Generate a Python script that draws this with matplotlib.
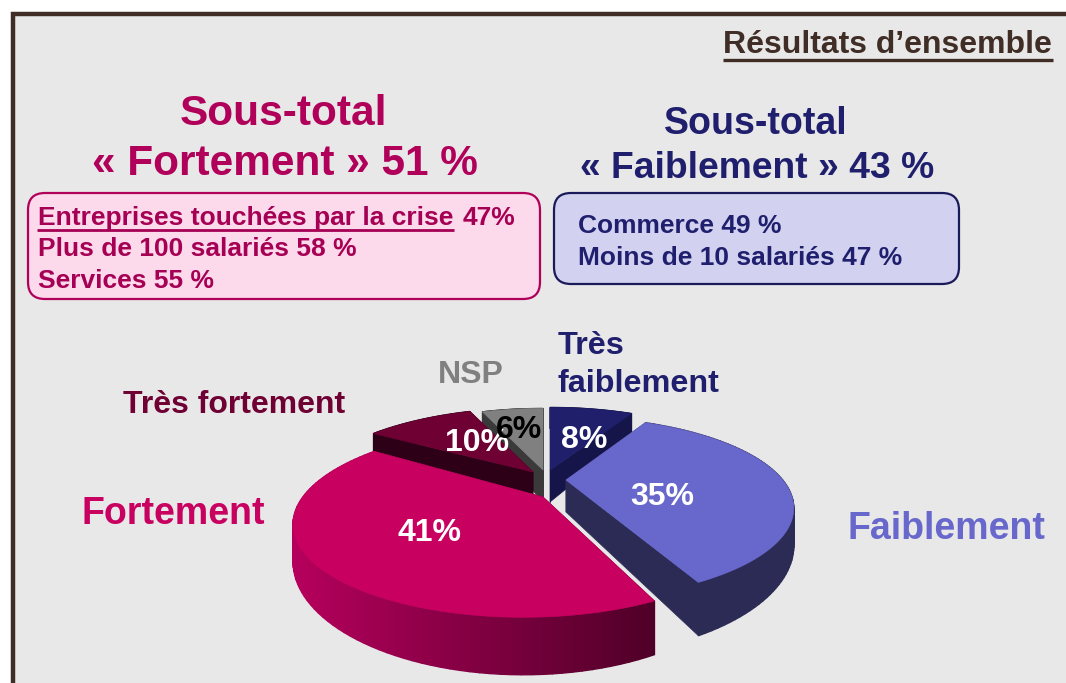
import numpy as np
import matplotlib
matplotlib.use("Agg")
import matplotlib.pyplot as plt
from matplotlib.patches import Rectangle, FancyBboxPatch, Polygon

plt.rcParams['font.family'] = ['Liberation Sans', 'DejaVu Sans']

# Data, clockwise from twelve o'clock
categories = ["Très faiblement", "Faiblement", "Fortement", "Très fortement", "NSP"]
values = [8, 35, 41, 10, 6]
value_labels = ["8%", "35%", "41%", "10%", "6%"]
fortement_lines = ["Plus de 100 salariés 58 %", "Services 55 %"]
faiblement_lines = ["Commerce 49 %", "Moins de 10 salariés 47 %"]

# Look of the slices: apex in pixels, rotation, radius at both ends, top colour, wall colour
slice_style = {
    "Très faiblement": (550, 470, 0, 0.97, 0.97, "#1f1f6b", "#15154a"),
    "Faiblement": (566, 480, -1, 0.98, 0.99, "#6868cc", "#2b2b55"),
    "Fortement": (543, 497, 3, 0.97, 1.13, "#c80060", None),
    "Très fortement": (533, 472, 0, 1.0, 1.0, "#6f0034", "#2d0018"),
    "NSP": (543, 470, 0, 0.95, 0.95, "#808080", "#3a3a3a"),
}
draw_order = ["Très faiblement", "NSP", "Très fortement", "Faiblement", "Fortement"]

RX, RY, PERSP, WALL = 220, 83.7, 0.308, 32


def project(theta, r=1.0):
    # theta in degrees clockwise from the top, seen from a tilted camera
    t = np.radians(theta)
    u, v = r * np.sin(t), r * np.cos(t)
    s = 1 / (1 + PERSP * v)
    return RX * u * s, -RY * v * s, WALL * s ** 1.6


def mix(c1, c2, f):
    a = np.array(matplotlib.colors.to_rgb(c1))
    b = np.array(matplotlib.colors.to_rgb(c2))
    return tuple(a + (b - a) * f)


fig = plt.figure(figsize=(10.66, 6.83), dpi=100)
ax = fig.add_axes([0, 0, 1, 1])
ax.set_xlim(0, 1066)
ax.set_ylim(683, 0)
ax.axis("off")

# Panel
ax.add_patch(Rectangle((13, 14), 1100, 720, facecolor="#e8e8e8", edgecolor="#3f2d26", lw=3.2))

# Pie
edges = np.cumsum([0] + values) / sum(values) * 360
for name in draw_order:
    i = categories.index(name)
    ax0, ay0, rot, r1, r2, top_col, wall_col = slice_style[name]
    th = np.linspace(edges[i] + rot, edges[i + 1] + rot, 80)
    xs, ys, hs = project(th, np.linspace(r1, r2, 80))
    xs, ys = ax0 + xs, ay0 + ys
    h0 = WALL

    # the two cut faces
    for k in (0, -1):
        col = wall_col if wall_col else "#5a002c"
        ax.add_patch(Polygon([(ax0, ay0), (xs[k], ys[k]), (xs[k], ys[k] + hs[k]), (ax0, ay0 + h0)],
                             facecolor=col, edgecolor=col, lw=0.5))
    # outer wall, in small strips so Fortement can have its gradient
    for k in range(len(th) - 1):
        if wall_col:
            col = wall_col
        else:
            col = mix("#b4005c", "#500028", np.clip((xs[k] - 300) / 356, 0, 1))
        ax.add_patch(Polygon([(xs[k], ys[k]), (xs[k + 1], ys[k + 1]),
                              (xs[k + 1], ys[k + 1] + hs[k + 1]), (xs[k], ys[k] + hs[k])],
                             facecolor=col, edgecolor=col, lw=1.0))
    ax.add_patch(Polygon(np.column_stack([np.r_[ax0, xs], np.r_[ay0, ys]]),
                         facecolor=top_col, edgecolor=top_col, lw=0.5))

# Percent labels on the slices
label_pos = [(584, 440), (662, 497), (430, 533), (477, 443), (519, 430)]
label_col = ["white", "white", "white", "white", "black"]
for lab, (x, y), c in zip(value_labels, label_pos, label_col):
    ax.text(x, y, lab, color=c, fontsize=23, fontweight="bold", ha="center", va="center")

# Slice names
ax.text(558, 346, "Très", color="#1f1f6e", fontsize=23.3, fontweight="bold", va="center")
ax.text(558, 384, "faiblement", color="#1f1f6e", fontsize=23.3, fontweight="bold", va="center")
ax.text(848, 529, categories[1], color="#6868cc", fontsize=27, fontweight="bold", va="center")
ax.text(82, 514, categories[2], color="#c80060", fontsize=27, fontweight="bold", va="center")
ax.text(123, 405, categories[3], color="#6f0034", fontsize=23, fontweight="bold", va="center")
ax.text(438, 375, categories[4], color="#808080", fontsize=23, fontweight="bold", va="center")

# Heading
ax.text(1052, 45, "Résultats d’ensemble", color="#3f2d26", fontsize=23, fontweight="bold", ha="right", va="center")
ax.plot([723, 1053], [60, 60], color="#3f2d26", lw=2.4, solid_capstyle="butt")

# Sub-totals
ax.text(283.5, 114, "Sous-total", color="#b0005a", fontsize=30.5, fontweight="bold", ha="center", va="center")
ax.text(285, 164, "« Fortement » 51 %", color="#b0005a", fontsize=30.5, fontweight="bold", ha="center", va="center")
ax.text(756, 124, "Sous-total", color="#1f1f6e", fontsize=27, fontweight="bold", ha="center", va="center")
ax.text(757, 169, "« Faiblement » 43 %", color="#1f1f6e", fontsize=26.8, fontweight="bold", ha="center", va="center")

# Boxes
ax.add_patch(FancyBboxPatch((28, 193), 512, 106, boxstyle="round,pad=0,rounding_size=17",
                            facecolor="#fdd9ec", edgecolor="#b0005a", lw=1.6))
ax.add_patch(FancyBboxPatch((554, 193), 405, 91, boxstyle="round,pad=0,rounding_size=17",
                            facecolor="#d2d2f0", edgecolor="#1a1a5a", lw=1.6))

ax.text(38, 218, "Entreprises touchées par la crise", color="#a50053", fontsize=19, fontweight="bold", va="center")
ax.text(515, 218, "47%", color="#a50053", fontsize=19, fontweight="bold", ha="right", va="center")
ax.plot([37, 454], [230, 230], color="#a50053", lw=2, solid_capstyle="butt")
for y, line in zip([249, 281], fortement_lines):
    ax.text(38, y, line, color="#a50053", fontsize=19, fontweight="bold", va="center")
for y, line in zip([226, 258], faiblement_lines):
    ax.text(578, y, line, color="#1f1f6e", fontsize=19, fontweight="bold", va="center")

fig.savefig("out.png", dpi=100, facecolor="white")
